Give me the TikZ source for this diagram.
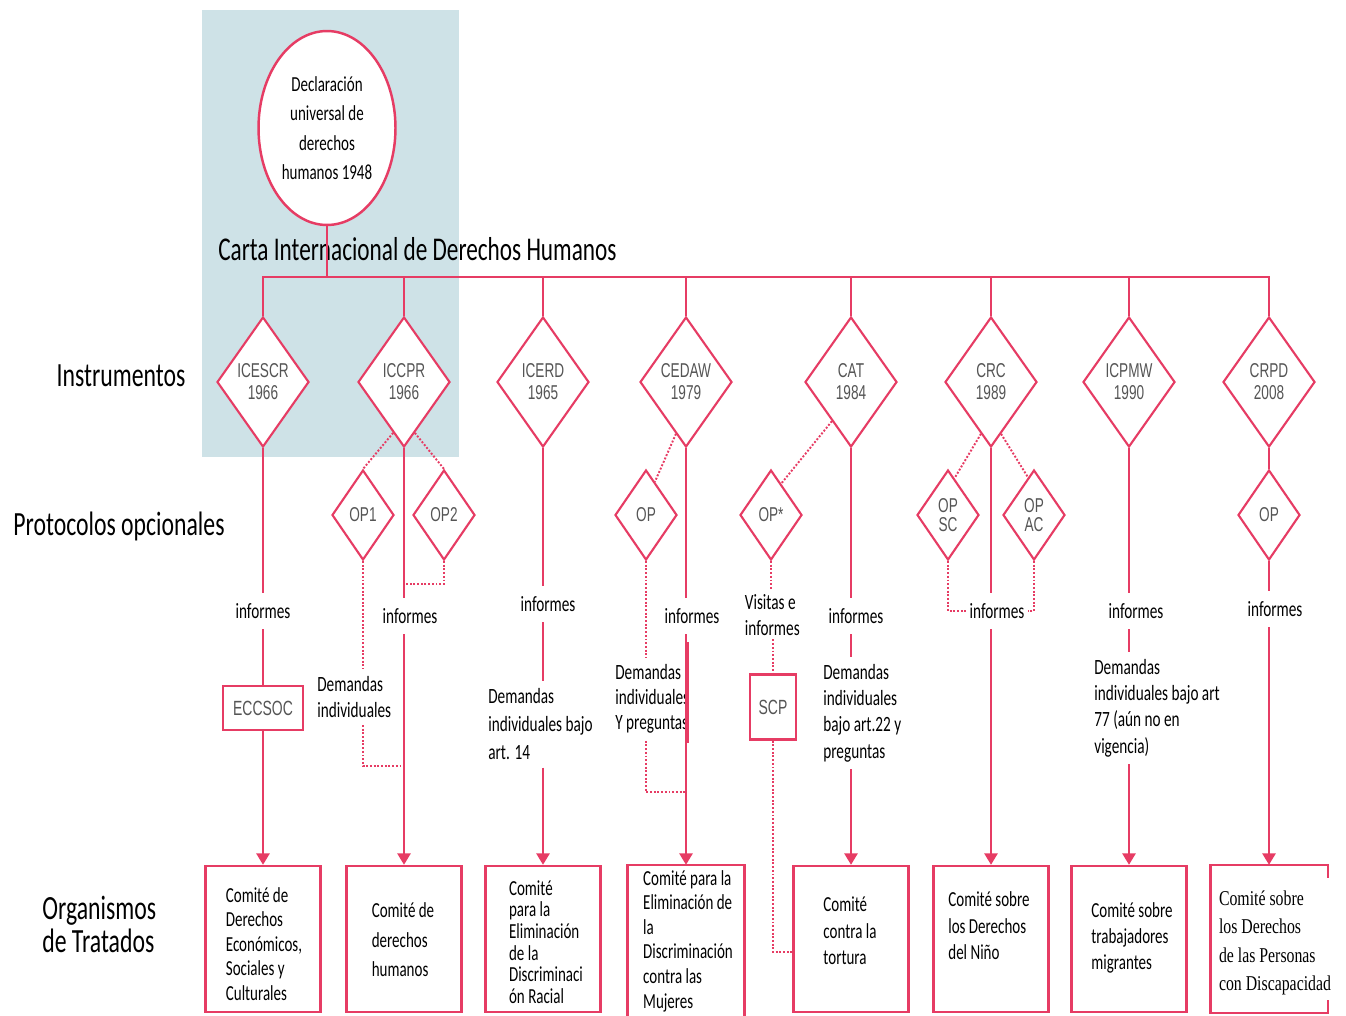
\documentclass[tikz,border=0pt]{standalone}
\usepackage{fontspec}
\setmainfont{Carlito}[FakeStretch=0.7]
\newfontfamily\dfont{Liberation Sans}[FakeStretch=0.68]
\newfontfamily\sfont{Liberation Serif}[FakeStretch=0.75]
\usepackage{xcolor}
\usepackage{tikz}
\usetikzlibrary{shapes.geometric,arrows.meta}
\definecolor{rosa}{RGB}{230,60,100}
\definecolor{celeste}{RGB}{206,226,231}
\definecolor{gristxt}{RGB}{85,85,85}

\begin{document}
\begin{tikzpicture}[x=0.02cm,y=-0.02cm,
		linea/.style={rosa,line width=1.2pt},
		punt/.style={rosa,line width=1.1pt,densely dotted},
		flecha/.style={linea,-{Triangle[width=7.5pt,length=6.5pt]}},
		inst/.style={diamond,draw=rosa,line width=1.2pt,fill=white,minimum width=1.84cm,minimum height=2.6cm,inner sep=0pt,align=center,text=gristxt,font=\dfont\fontsize{11.4}{12.5}\selectfont},
		prot/.style={inst,minimum width=1.24cm,minimum height=1.8cm,font=\dfont\fontsize{11.4}{10.8}\selectfont},
		chica/.style={draw=rosa,line width=1.4pt,fill=white,inner sep=0pt,text=gristxt,font=\dfont\fontsize{11.7}{13}\selectfont},
		caja/.style={draw=rosa,line width=1.4pt,minimum width=2.3cm,minimum height=2.92cm,inner sep=0pt},
		org/.style={align=left,inner sep=0pt},
		inf/.style={minimum height=0.72cm,inner sep=2pt,font=\fontsize{12.4}{15}\selectfont},
		dem/.style={align=left,anchor=west,inner xsep=0pt,inner ysep=4pt},
		titulo/.style={inner sep=0pt,font=\fontsize{19.3}{23}\selectfont}]
	\useasboundingbox (0,0) rectangle (1346,1015);
	\fill[celeste] (202,10) rectangle (459,457);

	\node[titulo,anchor=west,font=\fontsize{18.9}{23}\selectfont] (carta) at (218,249) {Carta Internacional de Derechos Humanos};
	\node[titulo] (linst) at (121,376) {Instrumentos};
	\node[titulo] (lprot) at (119,526) {Protocolos opcionales};
	\node[titulo,anchor=west,align=left,font=\fontsize{19.3}{18.8}\selectfont] (lorg) at (42,924) {Organismos\\de Tratados};

	\node[ellipse,draw=rosa,line width=1.4pt,fill=white,minimum width=2.74cm,minimum height=3.88cm,inner sep=0pt,align=center,font=\fontsize{12.2}{16.7}\selectfont] (udhr) at (327,128) {Declaración\\universal de\\derechos\\humanos 1948};

	\node[inst] (d1) at (263,382) {ICESCR\\1966};
	\node[inst] (d2) at (404,382) {ICCPR\\1966};
	\node[inst] (d3) at (543,382) {ICERD\\1965};
	\node[inst] (d4) at (686,382) {CEDAW\\1979};
	\node[inst] (d5) at (851,382) {CAT\\1984};
	\node[inst] (d6) at (991,382) {CRC\\1989};
	\node[inst] (d7) at (1129,382) {ICPMW\\1990};
	\node[inst] (d8) at (1269,382) {CRPD\\2008};

	\node[prot] (op1) at (363,515) {OP1};
	\node[prot] (op2) at (444,515) {OP2};
	\node[prot] (op4) at (646,515) {OP};
	\node[prot] (op5) at (771,515) {OP*};
	\node[prot] (op6a) at (948,515) {OP\\SC};
	\node[prot] (op6b) at (1034,515) {OP\\AC};
	\node[prot] (op8) at (1269,515) {OP};

	\node[inf] (i1) at (263,611) {informes};
	\node[inf] (i2) at (410,616) {informes};
	\node[inf] (i3) at (548,604) {informes};
	\node[inf] (i4) at (692,616) {informes};
	\node[inf] (i5) at (856,616) {informes};
	\node[inf] (i6) at (997,611) {informes};
	\node[inf] (i7) at (1136,611) {informes};
	\node[inf] (i8) at (1275,609) {informes};
	\node[dem,inner sep=2pt,font=\fontsize{12.4}{14.8}\selectfont] (vis) at (741,615) {Visitas e\\informes};

	\node[dem,font=\fontsize{12.4}{14.8}\selectfont] (dem2) at (317,697) {Demandas\\individuales};
	\node[dem,font=\fontsize{12.4}{16.2}\selectfont] (dem3) at (488,724) {Demandas\\individuales bajo\\art. 14};
	\node[dem,font=\fontsize{12.4}{14.2}\selectfont] (dem4) at (615,699) {Demandas\\individuales\\Y preguntas};
	\node[dem,font=\fontsize{12.4}{15}\selectfont] (dem5) at (823,713) {Demandas\\individuales\\bajo art.22 y\\preguntas};
	\node[dem,font=\fontsize{12.4}{15}\selectfont] (dem7) at (1094,708) {Demandas\\individuales bajo art\\77 (aún no en\\vigencia)};

	\node[chica,minimum width=1.6cm,minimum height=0.88cm] (eccsoc) at (263,708) {ECCSOC};
	\node[chica,minimum width=0.92cm,minimum height=1.3cm] (scp) at (773,707) {SCP};

	\node[caja] (b1) at (263,939) {};
	\node[caja] (b2) at (404,939) {};
	\node[caja] (b3) at (543,939) {};
	\node[caja,draw=none,minimum height=3cm] (b4) at (686,941) {};
	\node[caja] (b5) at (851,939) {};
	\node[caja] (b6) at (991,939) {};
	\node[caja] (b7) at (1129,939) {};
	\node[caja,draw=none] (b8) at (1269,939) {};
	\draw[rosa,line width=1.4pt] (b4.south west) -- (b4.north west) -- (b4.north east) -- (b4.south east);
	\draw[rosa,line width=1.4pt] ([yshift=-0.26cm]b8.north east) -- (b8.north east) -- (b8.north west) -- (b8.south west) -- (b8.south east) -- ([yshift=0.26cm]b8.south east);

	\node[org,font=\fontsize{12.2}{14}\selectfont] (t1) at (264,944) {Comité de\\Derechos\\Económicos,\\ Sociales y\\Culturales};
	\node[org,font=\fontsize{12.2}{16.8}\selectfont] (t2) at (403,940) {Comité de\\derechos\\humanos};
	\node[org,font=\fontsize{12.2}{12.3}\selectfont] (t3) at (546,942) {Comité\\para la\\Eliminación\\de la\\Discriminaci\\ón Racial};
	\node[org,font=\fontsize{12.2}{14}\selectfont] (t4) at (688,941) {Comité para la\\Eliminación de\\la\\Discriminación\\contra las\\Mujeres};
	\node[org,font=\fontsize{12.2}{15.1}\selectfont] (t5) at (850,931) {Comité\\contra la\\tortura};
	\node[org,font=\fontsize{12.2}{15.1}\selectfont] (t6) at (989,926) {Comité sobre\\los Derechos\\del Niño};
	\node[org,font=\fontsize{12.2}{14.8}\selectfont] (t7) at (1132,938) {Comité sobre\\trabajadores\\migrantes};
	\node[org,font=\sfont\fontsize{12}{16.1}\selectfont] (t8) at (1275,943) {Comité sobre\\los Derechos\\de las Personas\\con Discapacidad};

	\coordinate (bus) at (327,277);
	\draw[linea] (udhr.south) -- (bus);
	\draw[linea] (d1.north) -- (d1.north |- bus) -| (d8.north);
	\draw[linea] (d2.north) -- (d2.north |- bus);
	\draw[linea] (d3.north) -- (d3.north |- bus);
	\draw[linea] (d4.north) -- (d4.north |- bus);
	\draw[linea] (d5.north) -- (d5.north |- bus);
	\draw[linea] (d6.north) -- (d6.north |- bus);
	\draw[linea] (d7.north) -- (d7.north |- bus);

	\draw[linea] (d1.south) -- (d1.south |- i1.north);
	\draw[linea] (d1.south |- i1.south) -- (eccsoc.north);
	\draw[flecha] (eccsoc.south) -- (b1.north);

	\draw[linea] (d2.south) -- (d2.south |- i2.north);
	\draw[flecha] (d2.south |- i2.south) -- (b2.north);

	\draw[linea] (d3.south) -- (d3.south |- i3.north);
	\draw[linea] (d3.south |- i3.south) -- (d3.south |- dem3.north);
	\draw[flecha] (d3.south |- dem3.south) -- (b3.north);

	\draw[linea] (d4.south) -- (d4.south |- i4.north);
	\draw[flecha] (d4.south |- i4.south) -- (b4.north);
	\draw[rosa,line width=2pt] (687.5,642) -- (687.5,743);

	\draw[linea] (d5.south) -- (d5.south |- i5.north);
	\draw[linea] (d5.south |- i5.south) -- (d5.south |- dem5.north);
	\draw[flecha] (d5.south |- dem5.south) -- (b5.north);

	\draw[linea] (d6.south) -- (d6.south |- i6.north);
	\draw[flecha] (d6.south |- i6.south) -- (b6.north);

	\draw[linea] (d7.south) -- (d7.south |- i7.north);
	\draw[linea] (d7.south |- i7.south) -- (d7.south |- dem7.north);
	\draw[flecha] (d7.south |- dem7.south) -- (b7.north);

	\draw[linea] (d8.south) -- (op8.north);
	\draw[linea] (op8.south) -- (op8.south |- i8.north);
	\draw[flecha] (op8.south |- i8.south) -- (b8.north);

	\draw[punt] (d2.258) -- (op1.north);
	\draw[punt] (d2.282) -- (op2.north);
	\draw[punt] (d4.259) -- (op4.75);
	\draw[punt] (d5.244) -- (op5.72);
	\draw[punt] (d6.259) -- (op6a.80);
	\draw[punt] (d6.281) -- (op6b.99);

	\coordinate (j2) at (404,766);
	\coordinate (j2b) at (404,584);
	\draw[punt] (op1.south) -- (op1.south |- dem2.north);
	\draw[punt] (op1.south |- dem2.south) |- (j2);
	\draw[punt] (op2.south) |- (j2b);

	\coordinate (j4) at (686,792);
	\draw[punt] (op4.south) -- (op4.south |- dem4.north);
	\draw[punt] (op4.south |- dem4.south) |- (j4);

	\draw[punt] (op5.south) -- (op5.south |- vis.north);
	\draw[punt] (scp.north |- vis.south) -- (scp.north);
	\draw[punt] (scp.south) |- ([yshift=-0.26cm]b5.west);

	\draw[punt] (op6a.south) |- (i6.west);
	\draw[punt] (op6b.south) |- (i6.east);
\end{tikzpicture}
\end{document}
